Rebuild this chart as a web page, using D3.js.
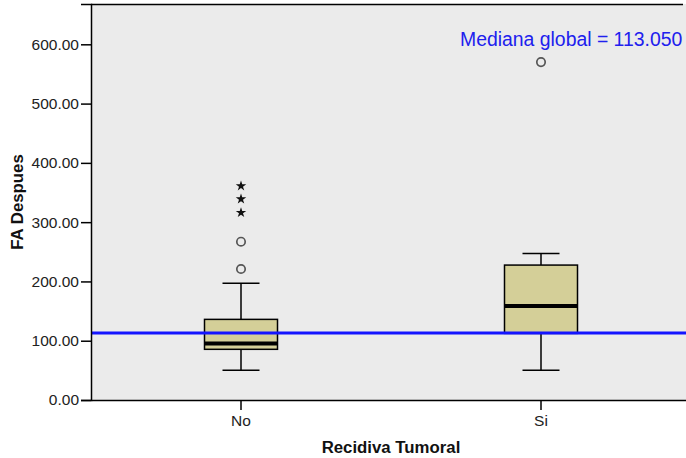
<!DOCTYPE html>
<html>
<head>
<meta charset="utf-8">
<script src="https://cdn.jsdelivr.net/npm/d3@7"></script>
<style>
  html, body { margin: 0; padding: 0; background: #fff; }
  svg { display: block; }
  text { font-family: "Liberation Sans", Arial, sans-serif; }
</style>
</head>
<body>
<svg id="chart" width="686" height="458"></svg>
<script>
// ---- data ----
const categories = ["No", "Si"];
const whiskerLow  = [50, 50];
const q1          = [85.5, 112.4];
const medians     = [95.5, 158.5];
const q3          = [136, 227.6];
const whiskerHigh = [197, 247];
const outliersNo  = [221, 267];
const outliersSi  = [570];
const extremesNo  = [316, 339, 361];
const extremesSi  = [];
const globalMedian = 113.05;
const yTicks = [0, 100, 200, 300, 400, 500, 600];
const xTitle = "Recidiva Tumoral";
const yTitle = "FA Despues";

const outliers = [outliersNo, outliersSi];
const extremes = [extremesNo, extremesSi];

// ---- layout ----
const svg = d3.select("#chart");
const pLeft = 91, pRight = 691, pTop = 4, pBottom = 400;

const x = d3.scaleBand().domain(categories).range([pLeft, pRight]);
const y = d3.scaleLinear().domain([0, 668]).range([pBottom, pTop]);

svg.append("defs").append("clipPath").attr("id", "plotclip")
  .append("rect").attr("x", pLeft).attr("y", pTop).attr("width", pRight - pLeft).attr("height", pBottom - pTop);

// background
svg.append("rect")
  .attr("x", pLeft).attr("y", pTop)
  .attr("width", pRight - pLeft).attr("height", pBottom - pTop)
  .attr("fill", "#ebebeb");

// top border
svg.append("line").attr("x1", pLeft).attr("x2", 683).attr("y1", pTop + 0.5).attr("y2", pTop + 0.5)
  .attr("stroke", "#000").attr("stroke-width", 1.5);

const plot = svg.append("g").attr("clip-path", "url(#plotclip)");

const boxW = 73, capW = 37;

categories.forEach((c, i) => {
  const cx = x(c) + x.bandwidth() / 2;
  const g = plot.append("g");
  // whiskers
  g.append("line").attr("x1", cx).attr("x2", cx).attr("y1", y(q3[i])).attr("y2", y(whiskerHigh[i]))
    .attr("stroke", "#000").attr("stroke-width", 1.5);
  g.append("line").attr("x1", cx).attr("x2", cx).attr("y1", y(q1[i])).attr("y2", y(whiskerLow[i]))
    .attr("stroke", "#000").attr("stroke-width", 1.5);
  g.append("line").attr("x1", cx - capW / 2).attr("x2", cx + capW / 2).attr("y1", y(whiskerHigh[i])).attr("y2", y(whiskerHigh[i]))
    .attr("stroke", "#000").attr("stroke-width", 1.5);
  g.append("line").attr("x1", cx - capW / 2).attr("x2", cx + capW / 2).attr("y1", y(whiskerLow[i])).attr("y2", y(whiskerLow[i]))
    .attr("stroke", "#000").attr("stroke-width", 1.5);
  // box
  g.append("rect").attr("x", cx - boxW / 2).attr("y", y(q3[i]))
    .attr("width", boxW).attr("height", y(q1[i]) - y(q3[i]))
    .attr("fill", "#d4cf98").attr("stroke", "#000").attr("stroke-width", 1.5);
  // median
  g.append("line").attr("x1", cx - boxW / 2).attr("x2", cx + boxW / 2).attr("y1", y(medians[i])).attr("y2", y(medians[i]))
    .attr("stroke", "#000").attr("stroke-width", 4);
  // outliers
  g.selectAll("circle.o").data(outliers[i]).enter().append("circle")
    .attr("cx", cx).attr("cy", d => y(d)).attr("r", 4.2)
    .attr("fill", "none").attr("stroke", "#555").attr("stroke-width", 1.7);
  // extremes
  g.selectAll("path.e").data(extremes[i]).enter().append("path")
    .attr("d", d3.symbol().type(d3.symbolStar).size(34))
    .attr("transform", d => `translate(${cx},${y(d)})`)
    .attr("fill", "#111");
});

// global median line
plot.append("line").attr("x1", pLeft).attr("x2", pRight)
  .attr("y1", y(globalMedian)).attr("y2", y(globalMedian))
  .attr("stroke", "#1414ff").attr("stroke-width", 3);

svg.append("text").attr("x", 460).attr("y", 46)
  .attr("font-size", 19.4).attr("fill", "#2020ee")
  .text("Mediana global = " + d3.format(".3f")(globalMedian));

// y axis
const yAxis = svg.append("g").attr("transform", `translate(${pLeft},0)`)
  .call(d3.axisLeft(y).tickValues(yTicks).tickFormat(d3.format(".2f")).tickSize(10).tickPadding(2));
yAxis.select(".domain").attr("stroke", "#000").attr("stroke-width", 1.5);
yAxis.selectAll(".tick line").attr("stroke", "#000").attr("stroke-width", 1.5);
yAxis.selectAll(".tick text").attr("font-size", 15.5).attr("fill", "#222")
  .attr("font-family", '"Liberation Sans", Arial, sans-serif');

// x axis
const xAxis = svg.append("g").attr("transform", `translate(0,${pBottom})`)
  .call(d3.axisBottom(x).tickSize(10).tickPadding(5).tickSizeOuter(0));
xAxis.select(".domain").attr("stroke", "#000").attr("stroke-width", 1.5);
xAxis.selectAll(".tick line").attr("stroke", "#000").attr("stroke-width", 1.5);
xAxis.selectAll(".tick text").attr("font-size", 15.5).attr("fill", "#222")
  .attr("font-family", '"Liberation Sans", Arial, sans-serif');

// titles
svg.append("text").attr("x", (pLeft + pRight) / 2).attr("y", 453)
  .attr("text-anchor", "middle").attr("font-size", 16.8).attr("font-weight", "bold")
  .attr("fill", "#111").text(xTitle);
svg.append("text").attr("transform", `translate(23,${(pTop + pBottom) / 2}) rotate(-90)`)
  .attr("text-anchor", "middle").attr("font-size", 16.8).attr("font-weight", "bold")
  .attr("fill", "#111").text(yTitle);
</script>
</body>
</html>
